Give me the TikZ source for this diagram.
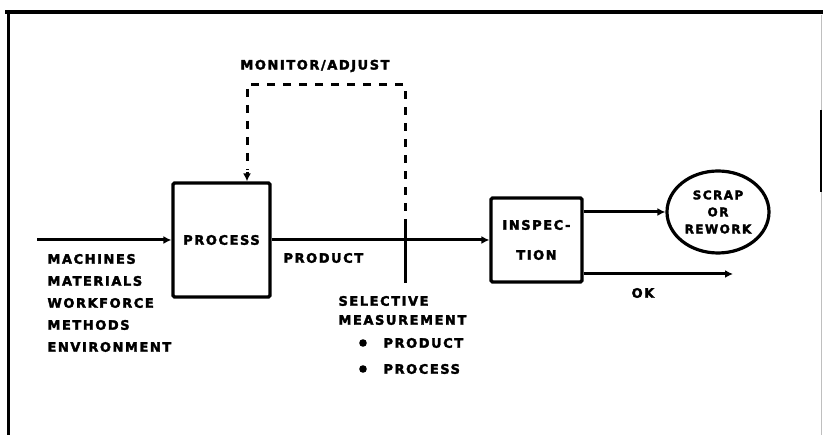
\documentclass[tikz,border=0pt]{standalone}
\usepackage{fontspec}
\newfontfamily\lblfont{DejaVu Sans}[LetterSpace=12,BoldFeatures={FakeBold=2.5}]
\usetikzlibrary{arrows.meta,shapes.geometric}
\begin{document}
\begin{tikzpicture}[x=1pt,y=-1pt,line width=3pt,
  lbl/.style={font=\lblfont\bfseries\fontsize{13}{13}\selectfont,inner sep=0pt},
  box/.style={draw,line width=3.2pt,rounded corners=1.5pt},
  arr/.style={-{Latex[length=8pt,width=8pt]}},
  dsh/.style={dash pattern=on 8pt off 8pt}]
\useasboundingbox (0,0) rectangle (823,435);
% frame
\draw[line width=3.5pt] (5,12) -- (823,12);
\draw[line width=3pt] (8,12) -- (8,435);
\draw[gray!50,line width=0.8pt] (821,15) -- (821,435);
\draw[line width=1.8pt] (821,110) -- (821,192);
% boxes
\node[box,lbl,minimum width=97pt,minimum height=114pt] (proc) at (221.5,240) {PROCESS};
\node[box,lbl,minimum width=91pt,minimum height=84pt,align=center] (insp) at (536.5,240) {INSPEC-\\[17pt]TION};
\node[draw,ellipse,line width=3.2pt,lbl,font=\lblfont\bfseries\fontsize{12}{17}\selectfont,minimum width=102pt,minimum height=82pt,align=center] (scrap) at (718,212) {SCRAP\\OR\\REWORK};
% coordinates
\coordinate (in) at (37,240);
\coordinate (mt) at (405,227);
\coordinate (mb) at (405,283);
\coordinate (ok) at (733,274);
\coordinate (dtr) at (405,85);
\coordinate (dtl) at (247,85);
\coordinate (dend) at (247,170);
% connectors
\draw[arr] (in) -- (in -| proc.west);
\draw[arr] (proc.east) -- (insp.west);
\draw (mt) -- (mb);
\draw[dsh] (mt) -- (dtr) -- (dtl) -- (dend);
\draw[arr] (247,172) -- (247,172 |- proc.north);
\draw[arr] (insp.east |- scrap.west) -- (scrap.west);
\draw[arr] (insp.east |- ok) -- (ok);
% labels
\node[lbl] (mon) at (315,66) {MONITOR/ADJUST};
\node[lbl,anchor=west] (l1) at (46,259) {MACHINES};
\node[lbl,anchor=west] (l2) at (46,281) {MATERIALS};
\node[lbl,anchor=west] (l3) at (46,303) {WORKFORCE};
\node[lbl,anchor=west] (l4) at (46,325) {METHODS};
\node[lbl,anchor=west] (l5) at (46,347) {ENVIRONMENT};
\node[lbl,anchor=west] (prod) at (282,258) {PRODUCT};
\node[lbl,anchor=west] (sel) at (337,301) {SELECTIVE};
\node[lbl,anchor=west] (meas) at (337,320) {MEASUREMENT};
\fill (363,343) circle (3.8pt);
\fill (363,369) circle (3.8pt);
\node[lbl,anchor=west] (b1) at (382,343) {PRODUCT};
\node[lbl,anchor=west] (b2) at (382,369) {PROCESS};
\node[lbl] (okl) at (643,293) {OK};
\end{tikzpicture}
\end{document}
